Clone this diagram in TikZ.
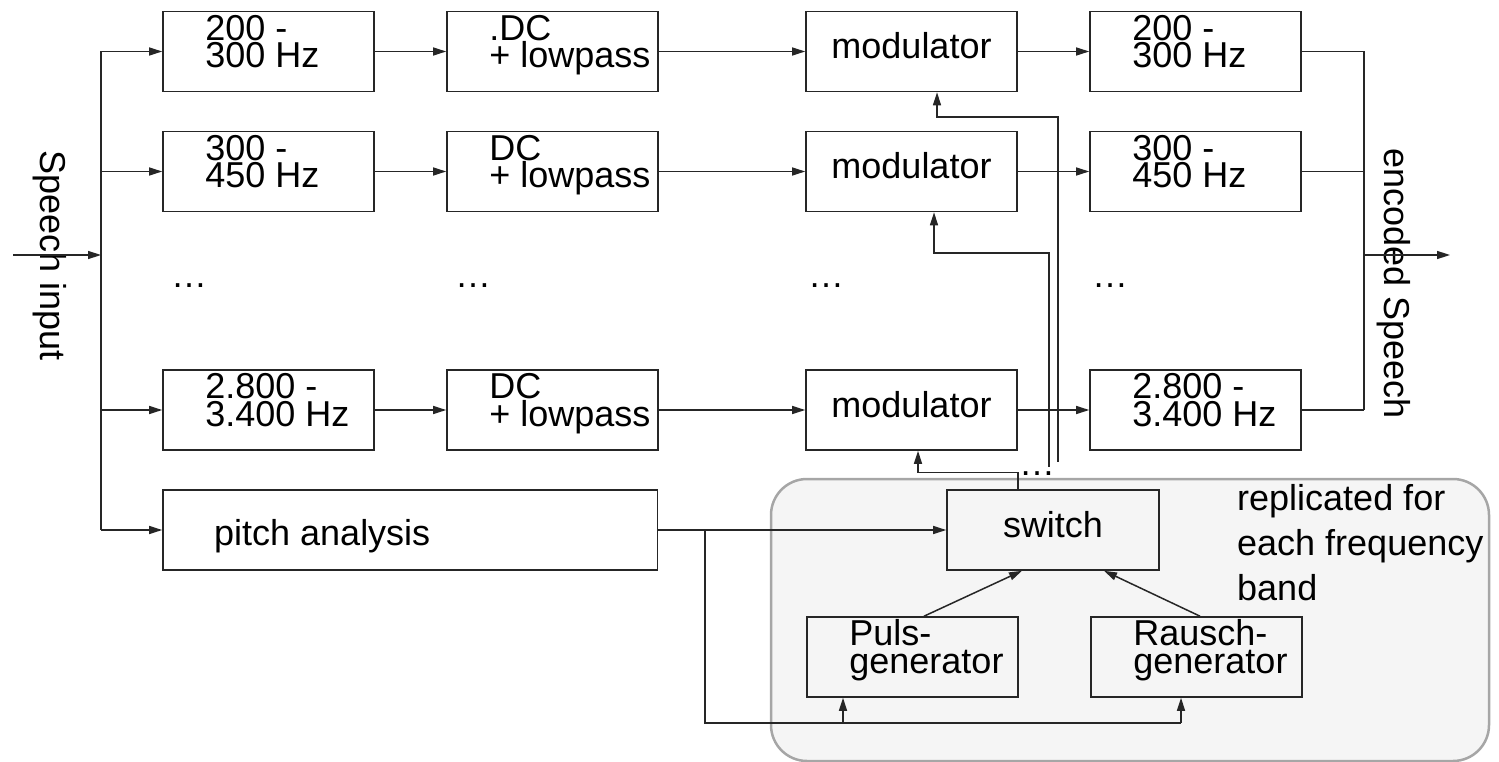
\documentclass[tikz,border=0pt]{standalone}
\usepackage{fontspec}
\setmainfont{Liberation Sans}
\usetikzlibrary{arrows.meta}

\tikzset{
  blk/.style={draw=black!85, line width=1.6pt, minimum width=211pt,
              minimum height=80pt, inner sep=0pt},
  wire/.style={draw=black!85, line width=1.5pt},
  arr/.style={wire, -{Triangle[length=13pt,width=8pt]}},
  txt/.style={font=\fontsize{36pt}{36pt}\selectfont, inner sep=0pt, anchor=base west},
  ctxt/.style={txt, anchor=base},
  grp/.style={fill=black!4, draw=black!35, line width=2.5pt, rounded corners=36pt},
}

% two-line label set into the upper left part of a block
\newcommand\blocklabel[4]{%
  \path (#1.north west) ++(43,29.5) node[txt] (#2a) {#3}
        ++(0,27.5) node[txt] (#2b) {#4};}

\begin{document}
\begin{tikzpicture}[x=1pt,y=-1pt]
\useasboundingbox (0,0) rectangle (1499,762);

% shaded region of the per-band excitation part
\draw[grp] (771,479) rectangle (1489,761);

% filter bank: rows of band pass, DC + lowpass, modulator, band pass
\foreach \r/\y in {1/51.5, 2/171.5, 3/410}{
  \node[blk] (b\r1) at (268.5,\y) {};
  \node[blk] (b\r2) at (552.5,\y) {};
  \node[blk] (b\r3) at (911.5,\y) {};
  \node[blk] (b\r4) at (1195.5,\y) {};
}
\node[blk, minimum width=494.5pt] (pa) at (410.25,530) {};
\node[blk, minimum width=212pt] (sw) at (1053,530) {};
\node[blk] (pg) at (912.5,657) {};
\node[blk] (rg) at (1196.5,657) {};

% block texts
\blocklabel{b11}{t11}{200 -}{300 Hz}
\blocklabel{b21}{t21}{300 -}{450 Hz}
\blocklabel{b31}{t31}{2.800 -}{3.400 Hz}
\blocklabel{b12}{t12}{.DC}{+ lowpass}
\blocklabel{b22}{t22}{DC}{+ lowpass}
\blocklabel{b32}{t32}{DC}{+ lowpass}
\blocklabel{b14}{t14}{200 -}{300 Hz}
\blocklabel{b24}{t24}{300 -}{450 Hz}
\blocklabel{b34}{t34}{2.800 -}{3.400 Hz}
\blocklabel{pg}{tpg}{Puls-}{generator}
\blocklabel{rg}{trg}{Rausch-}{generator}
\foreach \r in {1,2,3}{
  \node[ctxt] (t\r3) at ([yshift=-7.5pt]b\r3.center) {modulator};
}
\node[ctxt] (tsw) at ([yshift=-7pt]sw.center) {switch};
\node[txt] (tpa) at (214,545) {pitch analysis};

% elided rows
\node[txt] (d1) at (171,287) {…};
\node[txt] (d2) at (455,287) {…};
\node[txt] (d3) at (808,287) {…};
\node[txt] (d4) at (1092,287) {…};
\node[txt] (d5) at (1019,475) {…};

% side labels and annotation
\node[ctxt, rotate=-90] (lin) at (40,255.5) {Speech input};
\node[ctxt, rotate=-90] (lout) at (1384,283.5) {encoded Speech};
\node[txt] (n1) at (1237,510) {replicated for};
\node[txt] (n2) at (1237,555) {each frequency};
\node[txt] (n3) at (1237,600) {band};

% input distribution bus
\coordinate (busL) at (101,0);
\coordinate (src) at (13,255);
\draw[wire] (busL |- b11.west) -- (busL |- pa.west);
\draw[arr] (src) -- (busL |- src);
\foreach \n in {b11,b21,b31,pa}{
  \draw[arr] (busL |- \n.west) -- (\n.west);
}

% signal flow along each row
\foreach \r in {1,2,3}{
  \draw[arr] (b\r1.east) -- (b\r2.west);
  \draw[arr] (b\r2.east) -- (b\r3.west);
  \draw[arr] (b\r3.east) -- (b\r4.west);
}

% output summing bus
\coordinate (busR) at (1364,0);
\coordinate (dst) at (1450,255);
\foreach \r in {1,2,3}{
  \draw[wire] (b\r4.east) -- (busR |- b\r4.east);
}
\draw[wire] (busR |- b14.east) -- (busR |- b34.east);
\draw[arr] (busR |- dst) -- (dst);

% excitation feeds into the modulators
\coordinate (e1) at (1058,461.5);
\coordinate (k1) at (937,117);
\draw[arr] (e1) |- (k1) -- (k1 |- b13.south);
\coordinate (e2) at (1049,466.5);
\coordinate (k2) at (934,253);
\draw[arr] (e2) |- (k2) -- (k2 |- b23.south);
\coordinate (s3) at (1018,0);
\coordinate (k3) at (918,472.5);
\draw[arr] (s3 |- sw.north) |- (k3) -- (k3 |- b33.south);

% pitch analysis controls switch and generators
\draw[arr] (pa.east) -- (sw.west);
\coordinate (br) at (705,530);
\coordinate (pj) at (843,723);
\coordinate (rj) at (1181,723);
\draw[wire] (br) |- (rj);
\draw[arr] (pj) -- (pj |- pg.south);
\draw[arr] (rj) -- (rj |- rg.south);

% generators into switch
\draw[arr] ([xshift=11.5pt]pg.north) -- ([xshift=-31pt]sw.south);
\draw[arr] ([xshift=3.5pt]rg.north) -- ([xshift=51pt]sw.south);

\end{tikzpicture}
\end{document}
